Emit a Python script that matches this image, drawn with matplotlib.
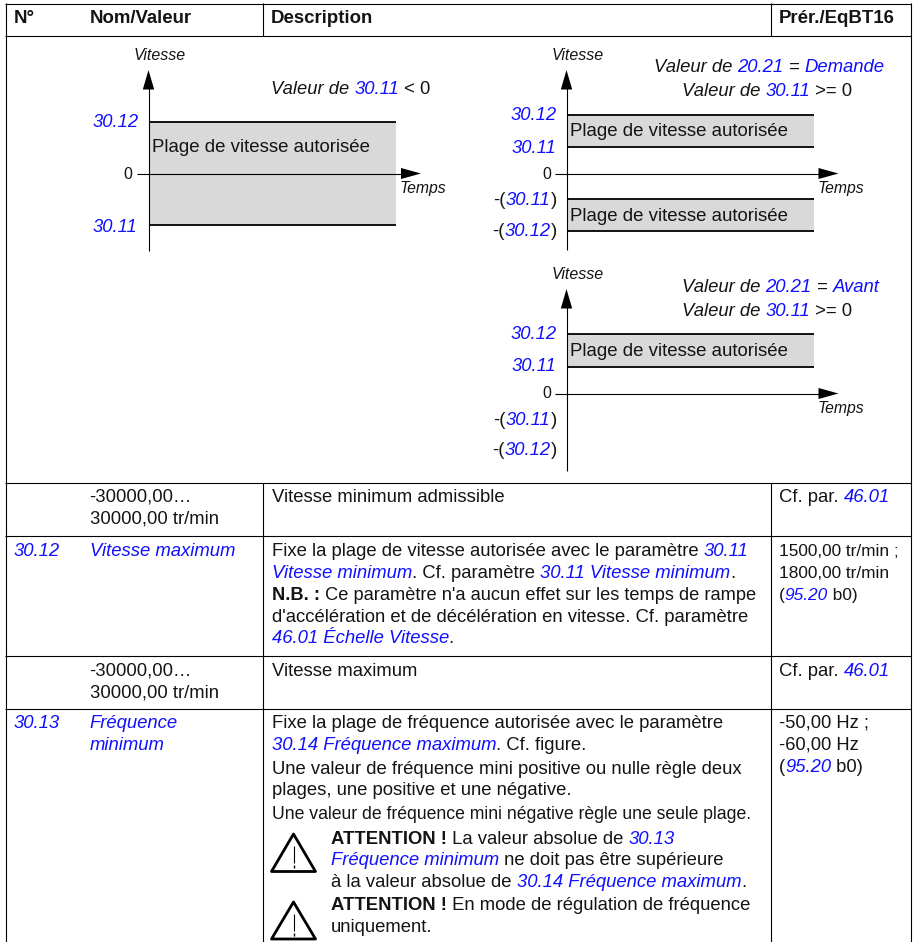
import re
import matplotlib
matplotlib.use('Agg')
import matplotlib.pyplot as plt
from matplotlib.patches import Polygon, Rectangle

plt.rcParams['font.family'] = ['Liberation Sans', 'DejaVu Sans']

BLUE = '#1010ff'
INK = '#141414'
GREY = '#d9d9d9'
BODY = 18.55

# markup in the strings: {blue italic}, *bold*, ~black italic~
header = ['N°', 'Nom/Valeur', 'Description', 'Prér./EqBT16']
band_label = 'Plage de vitesse autorisée'
speed_axis = 'Vitesse'
time_axis = 'Temps'
zero_label = '0'
max_label = '{30.12}'
min_label = '{30.11}'
neg_min_label = '-({30.11})'
neg_max_label = '-({30.12})'
note_left = ['~Valeur de ~{30.11} < 0']
note_right_top = ['~Valeur de ~{20.21} = {Demande}', '~Valeur de ~{30.11} >= 0']
note_right_low = ['~Valeur de ~{20.21} = {Avant}', '~Valeur de ~{30.11} >= 0']

range_lines = ['-30000,00…', '30000,00 tr/min']
min_desc = ['Vitesse minimum admissible']
max_desc = ['Vitesse maximum']
default_ref = ['Cf. par. {46.01}']

id_3012 = ['{30.12}']
name_3012 = ['{Vitesse maximum}']
desc_3012 = ['Fixe la plage de vitesse autorisée avec le paramètre {30.11}',
             '{Vitesse minimum}. Cf. paramètre {30.11 Vitesse minimum}.',
             "*N.B. :* Ce paramètre n'a aucun effet sur les temps de rampe",
             "d'accélération et de décélération en vitesse. Cf. paramètre",
             '{46.01 Échelle Vitesse}.']
default_3012 = ['1500,00 tr/min ;', '1800,00 tr/min', '({95.20} b0)']

id_3013 = ['{30.13}']
name_3013 = ['{Fréquence}', '{minimum}']
desc_3013 = ['Fixe la plage de fréquence autorisée avec le paramètre',
             '{30.14 Fréquence maximum}. Cf. figure.',
             'Une valeur de fréquence mini positive ou nulle règle deux',
             'plages, une positive et une négative.',
             'Une valeur de fréquence mini négative règle une seule plage.']
warn_1 = ['*ATTENTION !* La valeur absolue de {30.13}',
          '{Fréquence minimum} ne doit pas être supérieure',
          'à la valeur absolue de {30.14 Fréquence maximum}.']
warn_2 = ['*ATTENTION !* En mode de régulation de fréquence',
          'uniquement.']
default_3013 = ['-50,00 Hz ;', '-60,00 Hz', '({95.20} b0)']

fig = plt.figure(figsize=(9.15, 9.42), dpi=100)
ax = fig.add_axes([0, 0, 1, 1])
ax.set_xlim(0, 915)
ax.set_ylim(942, 0)
ax.axis('off')
renderer = fig.canvas.get_renderer()

STYLES = {
    'n': dict(color=INK),
    'b': dict(color=INK, fontweight='bold'),
    'i': dict(color=BLUE, fontstyle='italic'),
    'k': dict(color=INK, fontstyle='italic'),
}


def parse(s):
    runs = []
    for part in re.split(r'(\{[^}]*\}|\*[^*]*\*|~[^~]*~)', s):
        if not part:
            continue
        if part[0] == '{':
            runs.append((part[1:-1], 'i'))
        elif part[0] == '*':
            runs.append((part[1:-1], 'b'))
        elif part[0] == '~':
            runs.append((part[1:-1], 'k'))
        else:
            runs.append((part, 'n'))
    return runs


def run_width(s, style, px):
    # a trailing space has no ink, so measure against a closing letter
    kw = dict(fontsize=px * 0.72, **STYLES[style])
    t = ax.text(0, 0, s + 'x', **kw)
    w = t.get_window_extent(renderer).width
    t.set_text('x')
    w -= t.get_window_extent(renderer).width
    t.remove()
    return w


def line_width(s, px):
    return sum(run_width(r, st, px) for r, st in parse(s))


def rich(x, y, s, px=BODY, align='left'):
    runs = parse(s)
    if align == 'right':
        x -= line_width(s, px)
    elif align == 'center':
        x -= line_width(s, px) / 2
    for r, st in runs:
        ax.text(x, y, r, fontsize=px * 0.72, va='baseline', ha='left', **STYLES[st])
        x += run_width(r, st, px)


def block(x, ys, lines, px=BODY):
    for y, s in zip(ys, lines):
        rich(x, y, s, px)


def hline(y, x0, x1, lw=1.0, color='black'):
    ax.plot([x0, x1], [y, y], color=color, lw=lw * 0.72, solid_capstyle='butt')


def vline(x, y0, y1, lw=1.0):
    ax.plot([x, x], [y0, y1], color='black', lw=lw * 0.72, solid_capstyle='butt')


def speed_plot(ax_x, tip, foot, zero, bands, x_end, label_rows, label_x):
    for top, bottom, base in bands:
        ax.add_patch(Rectangle((ax_x, top), x_end - ax_x, bottom - top, fc=GREY, ec='none'))
        hline(top, ax_x, x_end, 1.8)
        hline(bottom, ax_x, x_end, 1.8)
        rich(ax_x + 4, base, band_label, 18.6)
    vline(ax_x, tip + 10, foot, 1.1)
    ax.add_patch(Polygon([(ax_x, tip), (ax_x - 5.7, tip + 19.5), (ax_x + 5.7, tip + 19.5)],
                         fc='black', ec='none'))
    hline(zero, ax_x - 12, x_end + 10, 1.1)
    ax.add_patch(Polygon([(x_end + 25, zero), (x_end + 5, zero - 5.5), (x_end + 5, zero + 5.5)],
                         fc='black', ec='none'))
    rich(ax_x + 11, tip - 10, '~' + speed_axis + '~', 16.0, 'center')
    rich(x_end + 4, zero + 19.5, '~' + time_axis + '~', 15.8)
    for y, s, dx in label_rows:
        rich(label_x + dx, y, s, 16.0 if s == zero_label else 18.4, 'right')


def warning(x0, x1, y0, y1):
    xc = (x0 + x1) / 2
    ax.add_patch(Polygon([(xc, y0), (x1, y1), (x0, y1)], fc='white', ec='black',
                         lw=2.0, joinstyle='round'))
    vline(xc, y0 + 12, y0 + 29, 1.1)
    vline(xc, y0 + 31, y0 + 34, 1.4)


# table frame
for y in [3.5, 35.5, 482.5, 535.5, 655.5, 708.5]:
    hline(y, 5, 911, 1.1)
vline(5.5, 3, 942, 1.1)
vline(910.5, 3, 942, 1.1)
for x in [262.5, 770.5]:
    vline(x, 3, 35.5, 1.1)
    vline(x, 482.5, 942, 1.1)

for x, s in zip([14, 89.5, 271, 779], header):
    rich(x, 23, '*' + s + '*', 18.7)

# diagrams
speed_plot(148.5, 70, 251, 173.5, [(122, 225, 152)], 396, [
    (127, max_label, 0), (179, zero_label, -6), (232, min_label, -1)], 138.5)
rich(271, 94, note_left[0], 18.4)

speed_plot(566.5, 70, 250, 173.5, [(115, 147, 136), (199, 231, 221)], 813.5, [
    (120, max_label, 0), (153, min_label, -1), (179, zero_label, -6),
    (205, neg_min_label, 0), (236, neg_max_label, 0)], 557)
rich(654, 72, note_right_top[0], 18.5)
rich(682, 96, note_right_top[1], 18.5)

speed_plot(566.5, 289, 470.5, 393.5, [(334, 367, 356)], 813.5, [
    (339, max_label, 0), (371, min_label, -1), (398.5, zero_label, -6),
    (425, neg_min_label, 0), (455, neg_max_label, 0)], 557)
rich(682, 292, note_right_low[0], 18.5)
rich(682, 316, note_right_low[1], 18.5)

# rows
block(89.5, [502, 524], range_lines)
block(271.5, [502], min_desc)
block(779, [502], default_ref)

block(14, [556], id_3012)
block(89.5, [556], name_3012)
block(271.5, [556, 577.5], desc_3012[:2])
rich(271.5, 600, desc_3012[2], 18.3)
block(271.5, [622, 643], desc_3012[3:])
block(779, [556, 577.5, 600], default_3012, 17.2)

block(89.5, [675.5, 697], range_lines)
block(271.5, [675.5], max_desc)
block(779, [675.5], default_ref)

block(14, [728], id_3013)
block(89.5, [728, 750], name_3013)
block(271.5, [728, 750, 774, 795], desc_3013[:4])
# this line is set tighter in the original to stay inside its column
rich(271.5, 819, desc_3013[4], 17.6)
block(779, [728, 750, 772], default_3013, 18.4)

warning(271.5, 315.5, 834, 871.5)
warning(271.5, 315.5, 902, 939)
block(331, [843.5, 865, 887], warn_1)
block(331, [910, 931.5], warn_2)

fig.savefig('out.png', dpi=100)
